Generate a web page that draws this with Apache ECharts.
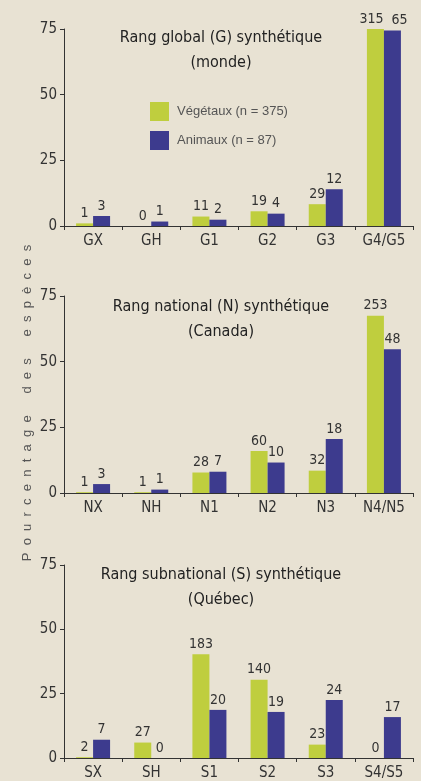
<!DOCTYPE html>
<html>
<head>
<meta charset="utf-8">
<script src="https://cdn.jsdelivr.net/npm/echarts@6/dist/echarts.min.js"></script>
<style>
  html, body { margin: 0; padding: 0; background: #e8e2d3; }
  #chart { width: 421px; height: 781px; }
</style>
</head>
<body>
<div id="chart"></div>
<script>
// rangs global (G)
var categoriesG = ['GX', 'GH', 'G1', 'G2', 'G3', 'G4/G5']
var vegG = [1.0, 0, 3.6, 5.6, 8.3, 75.5]
var aniG = [3.8, 1.7, 2.4, 4.7, 14.0, 74.4]
var vegCountG = [1, 0, 11, 19, 29, 315]
var aniCountG = [3, 1, 2, 4, 12, 65]

// rangs national (N)
var categoriesN = ['NX', 'NH', 'N1', 'N2', 'N3', 'N4/N5']
var vegN = [0.3, 0.3, 7.8, 16.0, 8.5, 67.5]
var aniN = [3.4, 1.3, 8.1, 11.6, 20.6, 54.7]
var vegCountN = [1, 1, 28, 60, 32, 253]
var aniCountN = [3, 1, 7, 10, 18, 48]

// rangs subnational (S)
var categoriesS = ['SX', 'SH', 'S1', 'S2', 'S3', 'S4/S5']
var vegS = [0.3, 6.0, 40.3, 30.4, 5.2, 0]
var aniS = [7.1, 0, 18.7, 17.9, 22.5, 15.9]
var vegCountS = [2, 27, 183, 140, 23, 0]
var aniCountS = [7, 0, 20, 19, 24, 17]

var yTicks = [0, 25, 50, 75]
var legendNames = ['Végétaux (n = 375)', 'Animaux (n = 87)']
var titles = [
  'Rang global (G) synthétique\n(monde)',
  'Rang national (N) synthétique\n(Canada)',
  'Rang subnational (S) synthétique\n(Québec)'
]

var GREEN = '#bfce3e'
var BLUE = '#3d3b8e'
var FONT = "'Liberation Sans Narrow', 'DejaVu Sans Condensed', sans-serif"

var chart = echarts.init(document.getElementById('chart'))

var gridTops = [29, 296, 565]
var titleTops = [20, 289, 557]
var grids = []
var xAxes = []
var yAxes = []
var series = []
var panels = [
  [categoriesG, vegG, aniG, vegCountG, aniCountG],
  [categoriesN, vegN, aniN, vegCountN, aniCountN],
  [categoriesS, vegS, aniS, vegCountS, aniCountS]
]

for (let i = 0; i < panels.length; i++) {
  let p = panels[i]
  grids.push({ left: 64, right: 8, top: gridTops[i], height: 197 })
  xAxes.push({
    type: 'category',
    gridIndex: i,
    data: p[0],
    axisLine: { lineStyle: { color: '#333', width: 1 } },
    axisTick: { show: true, length: 4, lineStyle: { color: '#333' } },
    axisLabel: { color: '#333', fontSize: 15, fontFamily: FONT, margin: 8 }
  })
  yAxes.push({
    type: 'value',
    gridIndex: i,
    min: yTicks[0],
    max: yTicks[yTicks.length - 1],
    interval: 25,
    splitLine: { show: false },
    axisLine: { show: true, lineStyle: { color: '#333', width: 1 } },
    axisTick: { show: true, length: 4, lineStyle: { color: '#333' } },
    axisLabel: { color: '#333', fontSize: 15, fontFamily: FONT, margin: 7 }
  })
  let counts = [p[3], p[4]]
  let values = [p[1], p[2]]
  let colors = [GREEN, BLUE]
  for (let s = 0; s < 2; s++) {
    // les deux étiquettes de G4/G5 sont écartées pour ne pas se chevaucher
    let data = values[s].map(function (v, k) {
      if (i === 0 && k === 5) return { value: v, label: { offset: [s === 0 ? -4 : 7, 0] } }
      return v
    })
    series.push({
      name: legendNames[s],
      type: 'bar',
      xAxisIndex: i,
      yAxisIndex: i,
      data: data,
      barWidth: 17,
      barGap: '0%',
      itemStyle: { color: colors[s] },
      label: {
        show: true,
        position: 'top',
        distance: 3,
        color: '#333',
        fontSize: 14,
        fontFamily: FONT,
        formatter: function (d) { return counts[s][d.dataIndex] }
      }
    })
  }
}

var option = {
  backgroundColor: '#e8e2d3',
  animation: false,
  title: titles.map(function (t, i) {
    return {
      text: t,
      left: 216,
      top: titleTops[i],
      textAlign: 'center',
      textStyle: { color: '#222', fontSize: 16, fontWeight: 'normal', fontFamily: FONT, lineHeight: 25 }
    }
  }),
  legend: {
    data: legendNames,
    orient: 'vertical',
    left: 145,
    top: 97,
    itemWidth: 19,
    itemHeight: 19,
    itemGap: 10,
    icon: 'rect',
    textStyle: { color: '#555', fontSize: 13, fontFamily: "'Liberation Sans', sans-serif", padding: [0, 0, 0, 3] }
  },
  graphic: [{
    type: 'text',
    x: 27,
    y: 403,
    rotation: Math.PI / 2,
    style: {
      text: 'P  o  u  r  c  e  n  t  a  g  e      d  e  s      e  s  p  è  c  e  s',
      fill: '#555',
      font: "13px 'Liberation Sans', sans-serif",
      textAlign: 'center',
      textVerticalAlign: 'middle'
    }
  }],
  grid: grids,
  xAxis: xAxes,
  yAxis: yAxes,
  series: series
}

chart.setOption(option)
</script>
</body>
</html>
